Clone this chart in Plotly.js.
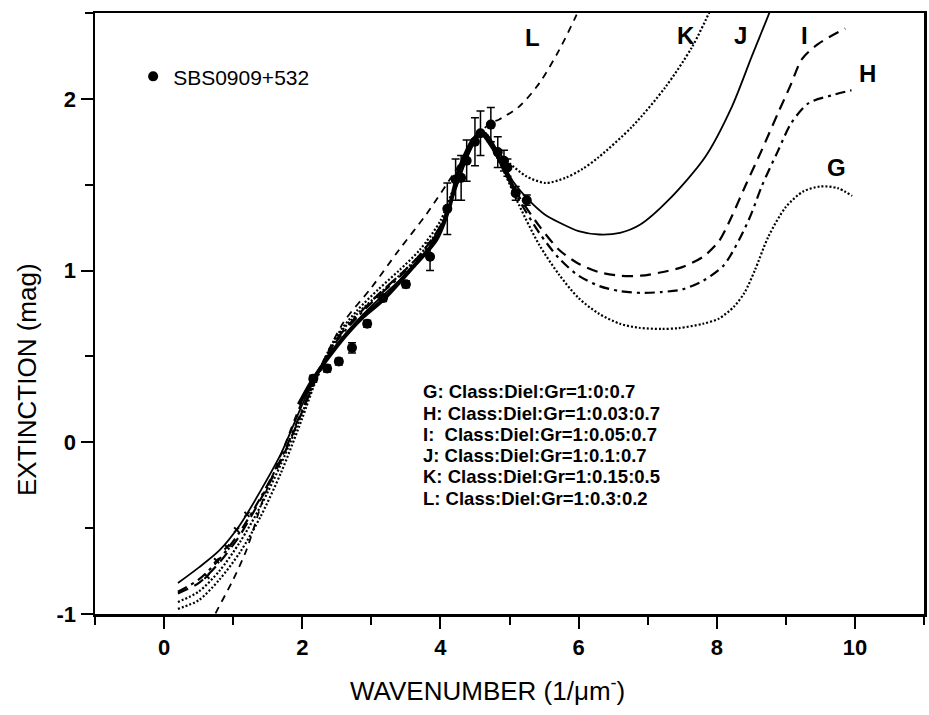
<!DOCTYPE html>
<html>
<head>
<meta charset="utf-8">
<script src="https://cdn.plot.ly/plotly-3.0.1.min.js"></script>
<style>html,body{margin:0;padding:0;background:#fff;}#chart{width:929px;height:715px;}</style>
</head>
<body>
<div id="chart"></div>
<script>
// ---- observed data: SBS0909+532 ----
var obsX = [2.16, 2.36, 2.53, 2.72, 2.94, 3.17, 3.50, 3.85, 4.10, 4.22, 4.30, 4.38, 4.50, 4.58, 4.73, 4.83, 4.92, 4.97, 5.09, 5.25];
var obsY = [0.37, 0.43, 0.47, 0.55, 0.69, 0.84, 0.92, 1.08, 1.36, 1.53, 1.54, 1.64, 1.75, 1.80, 1.85, 1.69, 1.64, 1.60, 1.45, 1.41];
var obsErr = [0.02, 0.02, 0.02, 0.03, 0.02, 0.02, 0.02, 0.08, 0.15, 0.12, 0.13, 0.12, 0.14, 0.13, 0.10, 0.09, 0.06, 0.05, 0.04, 0.03];
var lowX = [0.62, 0.76, 0.91, 1.05, 1.20];
var lowY = [-0.78, -0.69, -0.61, -0.51, -0.42];

// ---- model curves ----
var gX = [0.2,0.5,0.8,1.1,1.4,1.7,2.0,2.2,2.5,2.8,3.1,3.4,3.7,4.0,4.2,4.4,4.55,4.65,4.75,4.95,5.14,5.43,5.72,6.0,6.29,6.6,6.87,7.2,7.45,7.8,8.03,8.25,8.4,8.55,8.75,9.0,9.25,9.5,9.75,9.96];
var gY = [-0.97,-0.92,-0.80,-0.64,-0.43,-0.17,0.14,0.36,0.61,0.75,0.86,0.97,1.09,1.26,1.46,1.68,1.79,1.80,1.72,1.55,1.38,1.15,0.975,0.84,0.75,0.69,0.667,0.66,0.665,0.69,0.72,0.79,0.87,1.0,1.2,1.37,1.46,1.49,1.48,1.435];

var hX = [0.2,0.5,0.8,1.1,1.4,1.7,2.0,2.2,2.5,2.8,3.1,3.4,3.7,4.0,4.2,4.4,4.55,4.65,4.75,4.95,5.14,5.43,5.72,6.0,6.3,6.6,6.9,7.2,7.5,7.8,8.1,8.35,8.5,8.65,8.89,9.08,9.33,9.66,9.95];
var hY = [-0.87,-0.80,-0.68,-0.52,-0.32,-0.09,0.19,0.37,0.59,0.73,0.85,0.96,1.08,1.25,1.46,1.68,1.79,1.80,1.72,1.56,1.41,1.22,1.07,0.97,0.91,0.88,0.87,0.875,0.89,0.94,1.03,1.20,1.33,1.49,1.70,1.86,1.975,2.02,2.05];

var iX = [0.2,0.5,0.8,1.1,1.4,1.7,2.0,2.2,2.5,2.8,3.1,3.4,3.7,4.0,4.2,4.4,4.55,4.65,4.75,4.95,5.14,5.43,5.72,6.0,6.3,6.6,6.9,7.2,7.5,7.8,8.03,8.2,8.41,8.65,8.89,9.08,9.23,9.47,9.86];
var iY = [-0.88,-0.82,-0.70,-0.54,-0.33,-0.10,0.18,0.37,0.60,0.74,0.86,0.97,1.09,1.26,1.47,1.69,1.79,1.80,1.73,1.57,1.43,1.26,1.12,1.04,0.99,0.97,0.97,0.99,1.02,1.08,1.17,1.30,1.49,1.70,1.92,2.09,2.23,2.32,2.41];

var jX = [0.2,0.5,0.8,1.1,1.4,1.7,2.0,2.2,2.5,2.8,3.1,3.4,3.7,4.0,4.2,4.4,4.55,4.65,4.75,4.9,5.05,5.28,5.5,5.72,6.0,6.3,6.6,6.9,7.3,7.83,8.22,8.51,8.77,8.85];
var jY = [-0.82,-0.73,-0.63,-0.48,-0.28,-0.06,0.22,0.38,0.57,0.71,0.83,0.94,1.06,1.24,1.45,1.67,1.78,1.80,1.75,1.63,1.52,1.41,1.33,1.28,1.23,1.21,1.22,1.27,1.41,1.66,1.955,2.25,2.51,2.6];

var kX = [0.2,0.5,0.8,1.1,1.4,1.7,2.0,2.2,2.5,2.8,3.1,3.4,3.7,4.0,4.2,4.4,4.55,4.65,4.75,4.9,5.0,5.24,5.52,5.81,6.05,6.29,6.78,7.26,7.64,7.90,8.0];
var kY = [-0.93,-0.87,-0.75,-0.58,-0.37,-0.12,0.17,0.38,0.62,0.77,0.89,1.00,1.12,1.29,1.49,1.69,1.79,1.80,1.74,1.66,1.625,1.55,1.51,1.54,1.59,1.66,1.84,2.07,2.30,2.51,2.6];

var lX = [0.5,0.74,1.0,1.19,1.43,1.72,2.0,2.3,2.6,3.0,3.4,3.8,4.2,4.5,4.73,4.85,5.14,5.43,5.72,5.96,6.1];
var lY = [-1.2,-1.0,-0.80,-0.63,-0.336,-0.045,0.24,0.47,0.70,0.90,1.12,1.33,1.57,1.77,1.86,1.88,1.955,2.09,2.285,2.48,2.6];

// overlapping region of the curves (appears as a heavy line)
var bandX = [1.95,2.16,2.5,2.88,3.17,3.6,3.94,4.13,4.27,4.47,4.59,4.75,4.95,5.09];
var bandY = [0.22,0.37,0.56,0.73,0.83,1.02,1.18,1.37,1.59,1.76,1.80,1.72,1.57,1.45];

// ---- text ----
var xTickVals = [0, 2, 4, 6, 8, 10];
var xTickText = ['0', '2', '4', '6', '8', '10'];
var yTickVals = [-1, 0, 1, 2];
var yTickText = ['-1', '0', '1', '2'];
var curveNames = ['G','H','I','J','K','L'];
var labelX = [9.73, 10.18, 9.27, 8.34, 7.55, 5.33];
var labelY = [1.60, 2.15, 2.37, 2.37, 2.37, 2.36];
var legendLines = [
  'G: Class:Diel:Gr=1:0:0.7',
  'H: Class:Diel:Gr=1:0.03:0.7',
  'I:\u00a0\u00a0Class:Diel:Gr=1:0.05:0.7',
  'J: Class:Diel:Gr=1:0.1:0.7',
  'K: Class:Diel:Gr=1:0.15:0.5',
  'L: Class:Diel:Gr=1:0.3:0.2'
];
var legendLineY = [0.295, 0.169, 0.043, -0.079, -0.20, -0.326];
var xTitle = 'WAVENUMBER (1/\u03bcm<sup>-</sup>)';
var yTitle = 'EXTINCTION (mag)';

var FONT = 'Liberation Sans, Arial, sans-serif';
var L = 95, R = 5, T = 13, B = 101, W = 929, H = 715;
var pw = W - L - R, ph = H - T - B;

function curve(x, y, dash, w) {
  return {x: x, y: y, mode: 'lines', type: 'scatter', showlegend: false, hoverinfo: 'skip',
          line: {color: '#000', width: w, dash: dash, shape: 'spline', smoothing: 0.8}};
}

var traces = [
  curve(gX, gY, '2px,2px', 2.2),
  curve(hX, hY, '10px,5px,3px,5px', 2.2),
  curve(iX, iY, '11px,7px', 2.2),
  curve(jX, jY, 'solid', 1.8),
  curve(kX, kY, '2px,2px', 2.2),
  curve(lX, lY, '7px,6px', 1.8),
  curve(bandX, bandY, 'solid', 4),
  {x: lowX, y: lowY, mode: 'markers', type: 'scatter', showlegend: false,
   marker: {color: '#000', size: 5, symbol: 'x-thin', line: {color: '#000', width: 2}}},
  {x: obsX, y: obsY, name: 'SBS0909+532', mode: 'markers', type: 'scatter',
   marker: {color: '#000', size: 10},
   error_y: {type: 'data', array: obsErr, visible: true, color: '#000', thickness: 1.5, width: 4}}
];

var annotations = [];
for (var i = 0; i < curveNames.length; i++) {
  annotations.push({x: labelX[i], y: labelY[i], xref: 'x', yref: 'y', text: '<b>' + curveNames[i] + '</b>', showarrow: false,
    font: {family: FONT, size: 24, color: '#000'}});
}
for (var k = 0; k < legendLines.length; k++) {
  annotations.push({x: 3.72, y: legendLineY[k], xref: 'x', yref: 'y', text: '<b>' + legendLines[k] + '</b>', showarrow: false,
    xanchor: 'left', yanchor: 'middle',
    font: {family: FONT, size: 18.5, color: '#000'}});
}
// axis titles, placed where the reference puts them (pixel centres converted to paper fractions)
annotations.push({x: (487 - L) / pw, y: (H - B - 690) / ph, xref: 'paper', yref: 'paper',
  xanchor: 'center', yanchor: 'middle', text: xTitle, showarrow: false,
  font: {family: FONT, size: 26, color: '#000'}});
annotations.push({x: (27 - L) / pw, y: (H - B - 380) / ph, xref: 'paper', yref: 'paper',
  xanchor: 'center', yanchor: 'middle', text: yTitle, showarrow: false, textangle: -90,
  font: {family: FONT, size: 26, color: '#000'}});

var axisCommon = {
  showgrid: false, zeroline: false, showline: true, linecolor: '#000', linewidth: 2.5, mirror: true,
  ticks: 'outside', ticklen: 12, tickwidth: 2, tickcolor: '#000',
  tickfont: {family: FONT, size: 22, color: '#000', weight: 'bold'}
};

var layout = {
  width: W, height: H,
  margin: {l: L, r: R, t: T, b: B},
  paper_bgcolor: '#fff', plot_bgcolor: '#fff',
  showlegend: true,
  legend: {x: 0.046, y: 0.894, xanchor: 'left', yanchor: 'middle', bgcolor: 'rgba(0,0,0,0)',
           font: {family: FONT, size: 21, color: '#000'}},
  xaxis: Object.assign({}, axisCommon, {
    range: [-1, 11], tickmode: 'array', tickvals: xTickVals, ticktext: xTickText,
    minor: {dtick: 1, tick0: 0, ticks: 'outside', ticklen: 8, tickwidth: 2, tickcolor: '#000'}
  }),
  yaxis: Object.assign({}, axisCommon, {
    range: [-1, 2.5], tickmode: 'array', tickvals: yTickVals, ticktext: yTickText,
    minor: {dtick: 0.5, tick0: 0, ticks: 'outside', ticklen: 8, tickwidth: 2, tickcolor: '#000'}
  }),
  annotations: annotations
};

Plotly.newPlot('chart', traces, layout, {displayModeBar: false, staticPlot: true});
</script>
</body>
</html>
